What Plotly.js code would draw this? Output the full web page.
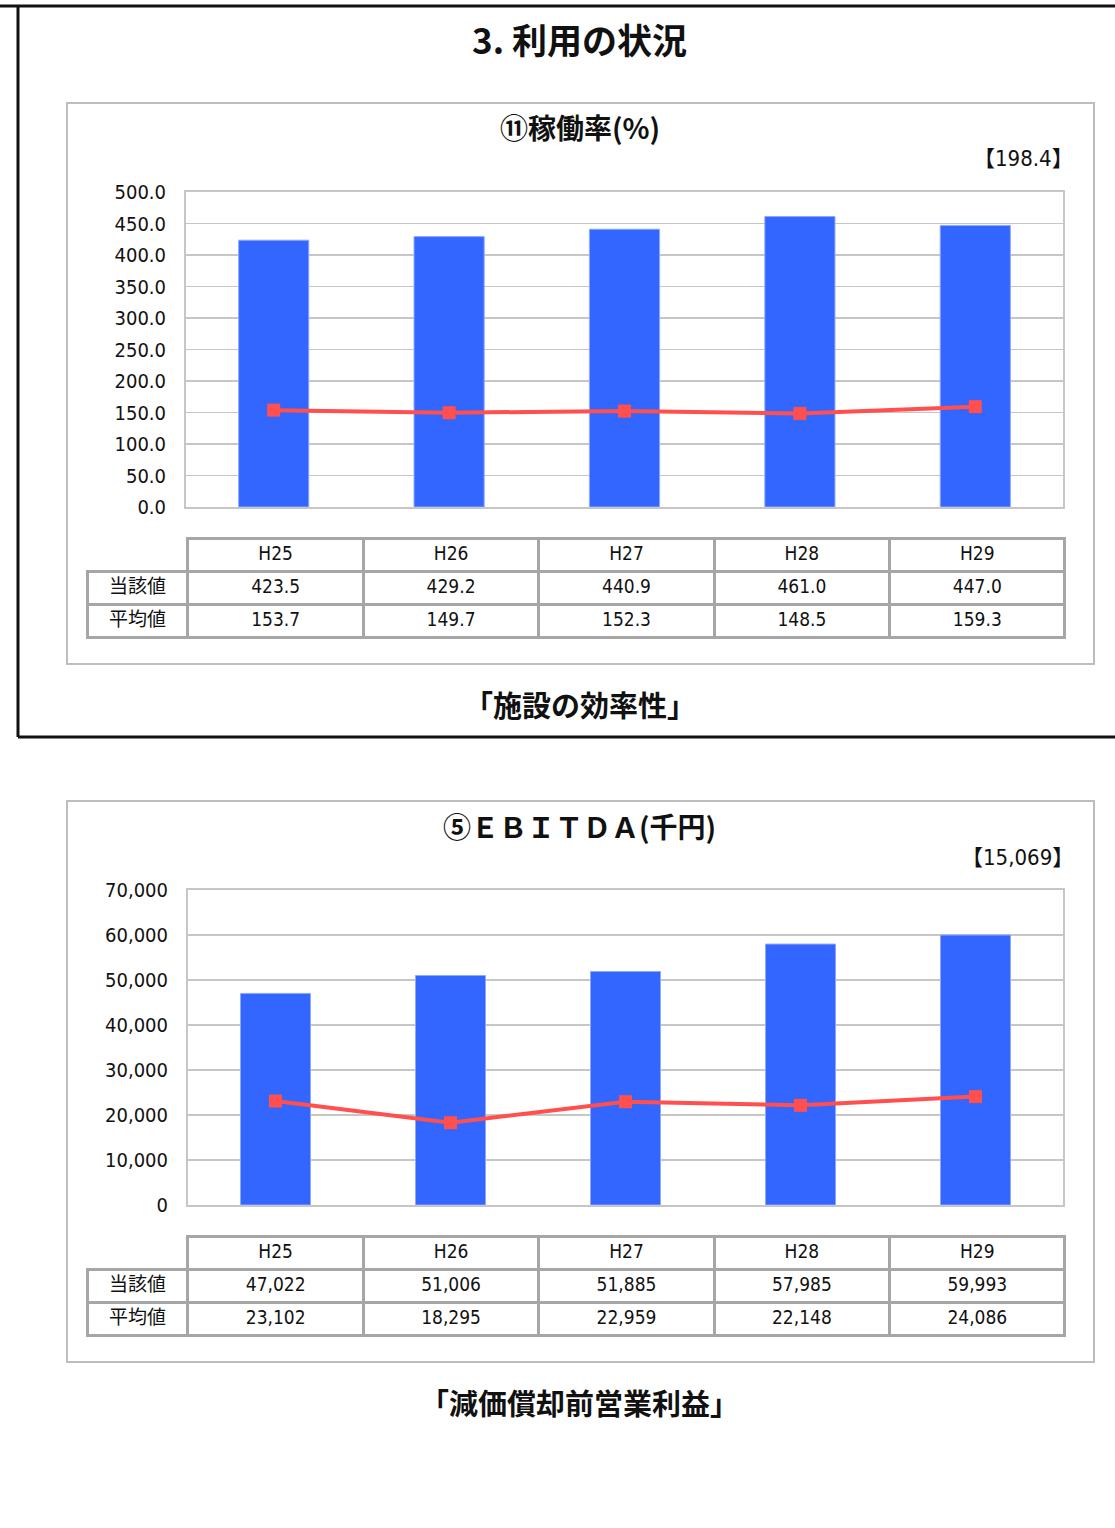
<!DOCTYPE html>
<html><head><meta charset="utf-8">
<script src="https://cdn.plot.ly/plotly-3.0.1.min.js"></script>
<style>html,body{margin:0;padding:0;background:#fff}#g{width:1115px;height:1528px}</style>
</head><body><div id="g"></div>
<script>
const years = ['H25','H26','H27','H28','H29'];
const rowLabels = ['当該値','平均値'];
const kadoValue = [423.5, 429.2, 440.9, 461.0, 447.0];
const kadoAvg = [153.7, 149.7, 152.3, 148.5, 159.3];
const ebitdaValue = [47022, 51006, 51885, 57985, 59993];
const ebitdaAvg = [23102, 18295, 22959, 22148, 24086];
const kadoTitle = '⑪稼働率(%)';
const kadoRef = '【198.4】';
const ebitdaTitle = '⑤ＥＢＩＴＤＡ(千円)';
const ebitdaRef = '【15,069】';

const W = 1115, H = 1528;
const px = x => x / W, py = y => 1 - y / H;
const NUM = 'DejaVu Sans Condensed, Noto Sans CJK JP, sans-serif';
const JP = 'Noto Sans CJK JP, sans-serif';
const BAR = '#3366FF', LINE = '#FF4F4F', GRID = '#C6C6C6', TB = '#A6A6A6';

const f1 = v => v.toFixed(1);
const f0 = v => v.toLocaleString('en-US');

function tableTrace(vals, avgs, fmt, top, bottom) {
  const colVals = [rowLabels].concat(years.map((y, i) => [fmt(vals[i]), fmt(avgs[i])]));
  return {
    type: 'table',
    domain: {x: [px(87), px(1065)], y: [py(bottom + 12), py(top)]},
    columnwidth: [101, 175.5, 175.5, 175.5, 175.5, 175.5],
    header: {
      values: [''].concat(years),
      height: 33,
      align: 'center',
      fill: {color: ['rgba(0,0,0,0)', 'white', 'white', 'white', 'white', 'white']},
      line: {color: ['rgba(0,0,0,0)', TB, TB, TB, TB, TB], width: 3},
      font: {family: NUM, size: 19, color: '#111'}
    },
    cells: {
      values: colVals,
      height: 33,
      align: 'center',
      fill: {color: 'white'},
      line: {color: TB, width: 3},
      font: {family: NUM, size: 19, color: '#111'}
    }
  };
}

const traces = [
  {type: 'bar', x: years, y: kadoValue, xaxis: 'x', yaxis: 'y', marker: {color: BAR, line: {color: '#8FA8FF', width: 1}}, width: 0.4, hoverinfo: 'none'},
  {type: 'scatter', mode: 'lines+markers', x: years, y: kadoAvg, xaxis: 'x', yaxis: 'y',
   line: {color: LINE, width: 4}, marker: {symbol: 'square', size: 13, color: LINE}, hoverinfo: 'none'},
  {type: 'bar', x: years, y: ebitdaValue, xaxis: 'x2', yaxis: 'y2', marker: {color: BAR, line: {color: '#8FA8FF', width: 1}}, width: 0.4, hoverinfo: 'none'},
  {type: 'scatter', mode: 'lines+markers', x: years, y: ebitdaAvg, xaxis: 'x2', yaxis: 'y2',
   line: {color: LINE, width: 4}, marker: {symbol: 'square', size: 13, color: LINE}, hoverinfo: 'none'},
  tableTrace(kadoValue, kadoAvg, f1, 538, 637),
  tableTrace(ebitdaValue, ebitdaAvg, f0, 1236, 1335)
];

const axX = (dom) => ({domain: dom, showticklabels: false, ticks: '', showline: true, linecolor: GRID, linewidth: 2, mirror: true, showgrid: false, fixedrange: true});
const axY = (dom, range, dtick, fmt) => ({domain: dom, range: range, dtick: dtick, tickformat: fmt,
  showline: true, linecolor: GRID, linewidth: 2, mirror: true, gridcolor: GRID, gridwidth: 1.5, zeroline: false,
  ticks: '', ticklen: 0, ticklabelstandoff: 14, tickfont: {family: NUM, size: 20, color: '#111'}, fixedrange: true});

const ann = (text, x, y, size, family, xanchor) => ({text: text, xref: 'paper', yref: 'paper', x: px(x), y: py(y),
  xanchor: xanchor || 'center', yanchor: 'middle', showarrow: false, font: {family: family, size: size, color: '#111'}});

const layout = {
  width: W, height: H,
  margin: {l: 0, r: 0, t: 0, b: 0},
  paper_bgcolor: 'white', plot_bgcolor: 'white',
  showlegend: false,
  bargap: 0.6,
  xaxis: axX([px(186), px(1063)]),
  yaxis: axY([py(507), py(192)], [0, 500], 50, '.1f'),
  xaxis2: Object.assign(axX([px(188), px(1063)]), {anchor: 'y2'}),
  yaxis2: Object.assign(axY([py(1205), py(890)], [0, 70000], 10000, ','), {anchor: 'x2'}),
  shapes: [
    {type: 'line', xref: 'paper', yref: 'paper', x0: 0, x1: 1, y0: py(6), y1: py(6), line: {color: '#111', width: 3}},
    {type: 'line', xref: 'paper', yref: 'paper', x0: px(18), x1: px(18), y0: py(6), y1: py(737), line: {color: '#111', width: 3}},
    {type: 'line', xref: 'paper', yref: 'paper', x0: px(18), x1: 1, y0: py(737), y1: py(737), line: {color: '#111', width: 3}},
    {type: 'rect', xref: 'paper', yref: 'paper', x0: px(67), x1: px(1094), y0: py(664), y1: py(103), line: {color: '#BDBDBD', width: 2}},
    {type: 'rect', xref: 'paper', yref: 'paper', x0: px(67), x1: px(1094), y0: py(1362), y1: py(801), line: {color: '#BDBDBD', width: 2}}
  ],
  annotations: [
    ann('<b>3. 利用の状況</b>', 580, 38, 35, JP),
    ann('<b>' + kadoTitle + '</b>', 580, 127, 28, JP),
    ann(kadoRef, 1076, 159, 22, NUM, 'right'),
    ann('<b>「施設の効率性」</b>', 580, 704, 29, JP),
    ann('<b>' + ebitdaTitle + '</b>', 580, 826, 28, JP),
    ann(ebitdaRef, 1076, 857, 22, NUM, 'right'),
    ann('<b>「減価償却前営業利益」</b>', 580, 1402, 29, JP)
  ]
};

Plotly.newPlot('g', traces, layout, {displayModeBar: false, staticPlot: true});
</script></body></html>
